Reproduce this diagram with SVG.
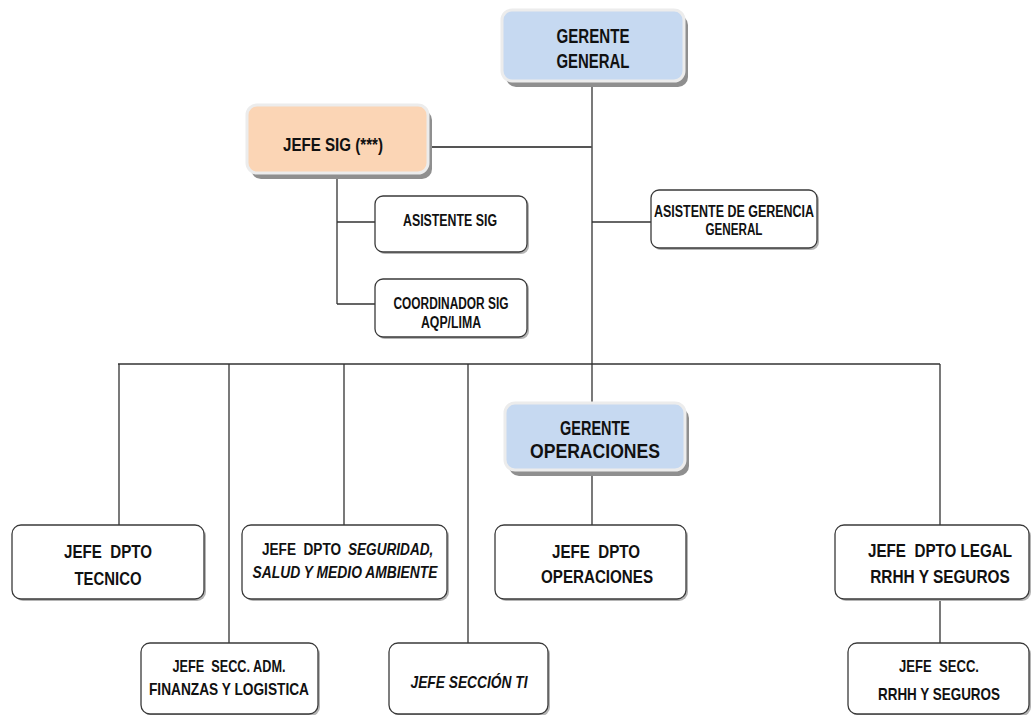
<svg xmlns="http://www.w3.org/2000/svg" width="1033" height="715" viewBox="0 0 1033 715">
<style>
text{font-family:"Liberation Sans",Arial,sans-serif;font-weight:bold;fill:#111;text-anchor:middle}
.wb{fill:#fff;stroke:#3a3a3a;stroke-width:1.3}
.ws{fill:#b5b5b5}
.cs{fill:#8f8f8f}
.blue{fill:#c6d9f1;stroke:#ececec;stroke-width:3}
.peach{fill:#fbd5b5;stroke:#ececec;stroke-width:3}
.ln{stroke:#333;stroke-width:1.3;fill:none}
.it{font-style:italic}
.st{text-anchor:start}
</style>
<rect width="1033" height="715" fill="#fff"/>
<g id="connectors">
<path class="ln" d="M592 81V403M592 470V525"/>
<path class="ln" d="M428 147H592" style="stroke:#555;stroke-width:2"/>
<path class="ln" d="M337 173V304M337 222H375M337 304H375"/>
<path class="ln" d="M592 222H651"/>
<path class="ln" d="M118 364H940"/>
<path class="ln" d="M119 364V525M229 364V643M344 364V525M468 364V643M940 364V525M940 599V643"/>
</g>
<g id="gerente-general">
<rect class="cs" x="506" y="15" width="182" height="72" rx="10"/>
<rect class="blue" x="502" y="10" width="182" height="71" rx="10"/>
<text x="593" y="43" font-size="20" textLength="73" lengthAdjust="spacingAndGlyphs">GERENTE</text>
<text x="593" y="68" font-size="20" textLength="73" lengthAdjust="spacingAndGlyphs">GENERAL</text>
</g>
<g id="jefe-sig">
<rect class="cs" x="251" y="110" width="181" height="69" rx="10"/>
<rect class="peach" x="247" y="105" width="181" height="68" rx="10"/>
<text x="333" y="151" font-size="19" textLength="100" lengthAdjust="spacingAndGlyphs">JEFE SIG (***)</text>
</g>
<g id="asistente-sig">
<rect class="ws" x="377" y="198" width="152" height="56" rx="8"/>
<rect class="wb" x="375" y="196" width="152" height="56" rx="8"/>
<text x="450" y="226" font-size="17" textLength="94" lengthAdjust="spacingAndGlyphs">ASISTENTE SIG</text>
</g>
<g id="coordinador-sig">
<rect class="ws" x="377" y="281" width="152" height="58" rx="8"/>
<rect class="wb" x="375" y="279" width="152" height="58" rx="8"/>
<text x="451" y="309" font-size="16" textLength="115" lengthAdjust="spacingAndGlyphs">COORDINADOR SIG</text>
<text x="451" y="328" font-size="16" textLength="60" lengthAdjust="spacingAndGlyphs">AQP/LIMA</text>
</g>
<g id="asistente-gerencia">
<rect class="ws" x="653" y="192" width="166" height="58" rx="8"/>
<rect class="wb" x="651" y="190" width="166" height="58" rx="8"/>
<text x="734" y="217" font-size="16" textLength="160" lengthAdjust="spacingAndGlyphs">ASISTENTE DE GERENCIA</text>
<text x="734" y="235" font-size="16" textLength="57" lengthAdjust="spacingAndGlyphs">GENERAL</text>
</g>
<g id="gerente-operaciones">
<rect class="cs" x="509" y="408" width="180" height="68" rx="10"/>
<rect class="blue" x="505" y="403" width="180" height="67" rx="10"/>
<text x="595" y="435" font-size="20" textLength="70" lengthAdjust="spacingAndGlyphs">GERENTE</text>
<text x="595" y="458" font-size="20" textLength="130" lengthAdjust="spacingAndGlyphs">OPERACIONES</text>
</g>
<g id="jefe-dpto-tecnico">
<rect class="ws" x="14" y="527" width="192" height="74" rx="9"/>
<rect class="wb" x="12" y="525" width="192" height="74" rx="9"/>
<text x="108" y="558" font-size="19" textLength="88" lengthAdjust="spacingAndGlyphs" xml:space="preserve">JEFE  DPTO</text>
<text x="108" y="585" font-size="19" textLength="67" lengthAdjust="spacingAndGlyphs">TECNICO</text>
</g>
<g id="jefe-dpto-seguridad">
<rect class="ws" x="244" y="527" width="205" height="74" rx="9"/>
<rect class="wb" x="242" y="525" width="205" height="74" rx="9"/>
<text class="st" transform="translate(262,555) scale(0.8,1)" font-size="17" xml:space="preserve">JEFE  DPTO</text>
<text class="st it" transform="translate(348,555) scale(0.8,1)" font-size="17">SEGURIDAD,</text>
<text x="345" y="578" font-size="17" class="it" textLength="185" lengthAdjust="spacingAndGlyphs">SALUD Y MEDIO AMBIENTE</text>
</g>
<g id="jefe-dpto-operaciones">
<rect class="ws" x="497" y="527" width="191" height="74" rx="9"/>
<rect class="wb" x="495" y="525" width="191" height="74" rx="9"/>
<text x="596" y="558" font-size="19" textLength="88" lengthAdjust="spacingAndGlyphs" xml:space="preserve">JEFE  DPTO</text>
<text x="597" y="583" font-size="19" textLength="112" lengthAdjust="spacingAndGlyphs">OPERACIONES</text>
</g>
<g id="jefe-dpto-legal">
<rect class="ws" x="837" y="527" width="194" height="74" rx="9"/>
<rect class="wb" x="835" y="525" width="194" height="74" rx="9"/>
<text transform="translate(940,557) scale(0.8,1)" font-size="19" xml:space="preserve">JEFE  DPTO LEGAL</text>
<text transform="translate(940,583) scale(0.81,1)" font-size="19">RRHH Y SEGUROS</text>
</g>
<g id="jefe-secc-adm">
<rect class="ws" x="143" y="645" width="177" height="71" rx="9"/>
<rect class="wb" x="141" y="643" width="177" height="71" rx="9"/>
<text x="229" y="672" font-size="17" textLength="113" lengthAdjust="spacingAndGlyphs" xml:space="preserve">JEFE  SECC. ADM.</text>
<text x="229" y="695" font-size="17" textLength="160" lengthAdjust="spacingAndGlyphs">FINANZAS Y LOGISTICA</text>
</g>
<g id="jefe-seccion-ti">
<rect class="ws" x="391" y="645" width="159" height="71" rx="9"/>
<rect class="wb" x="389" y="643" width="159" height="71" rx="9"/>
<text x="469" y="688" font-size="17" class="it" textLength="117" lengthAdjust="spacingAndGlyphs">JEFE SECCIÓN TI</text>
</g>
<g id="jefe-secc-rrhh">
<rect class="ws" x="850" y="645" width="181" height="71" rx="9"/>
<rect class="wb" x="848" y="643" width="181" height="71" rx="9"/>
<text x="939" y="672" font-size="17" textLength="80" lengthAdjust="spacingAndGlyphs" xml:space="preserve">JEFE  SECC.</text>
<text x="939" y="700" font-size="17" textLength="122" lengthAdjust="spacingAndGlyphs">RRHH Y SEGUROS</text>
</g>
</svg>
